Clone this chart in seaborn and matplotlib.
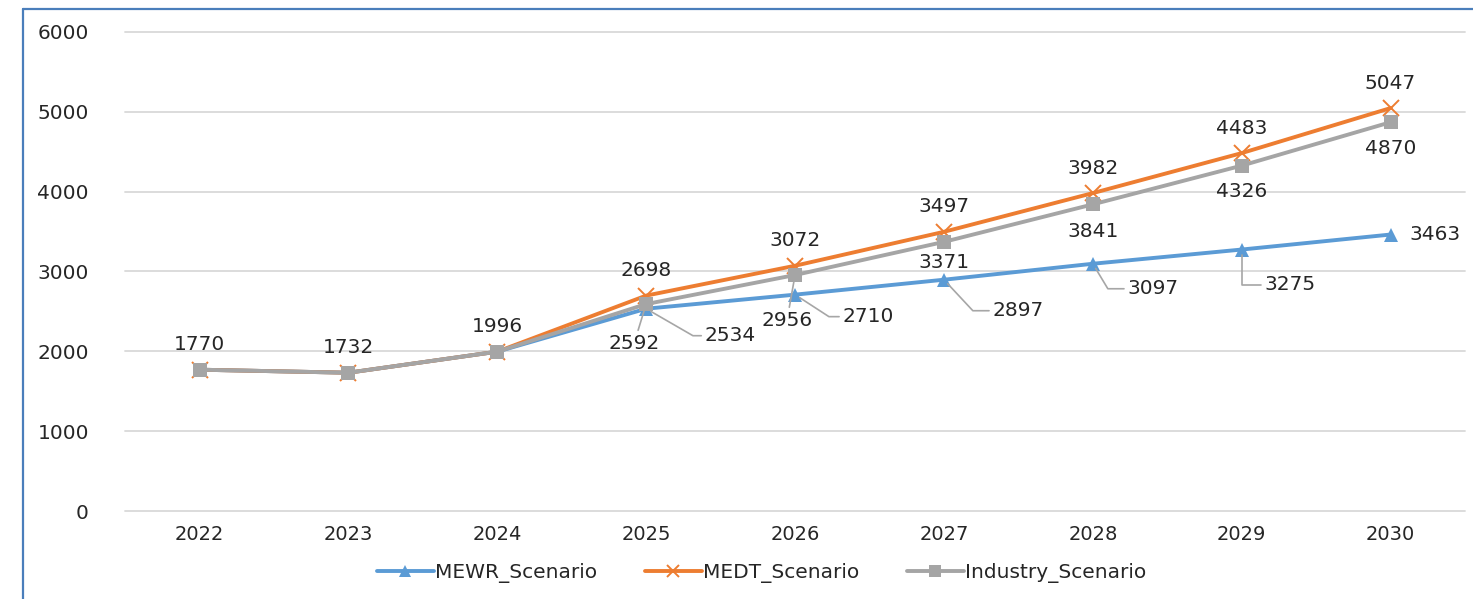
import numpy as np
import pandas as pd
import matplotlib
matplotlib.use("Agg")
import matplotlib.pyplot as plt
from matplotlib.lines import Line2D
import seaborn as sns

# ============================================================
# DATA
# ============================================================

years = [2022, 2023, 2024, 2025, 2026, 2027, 2028, 2029, 2030]

mewr = [1770, 1732, 1996, 2534, 2710, 2897, 3097, 3275, 3463]
medt = [1770, 1732, 1996, 2698, 3072, 3497, 3982, 4483, 5047]
industry = [1770, 1732, 1996, 2592, 2956, 3371, 3841, 4326, 4870]

y_ticks = [0, 1000, 2000, 3000, 4000, 5000, 6000]

series_names = ["MEWR_Scenario", "MEDT_Scenario", "Industry_Scenario"]

# ============================================================
# STYLE
# ============================================================

sns.set_style("white")
plt.rcParams["font.family"] = ["DejaVu Sans"]

TXT = "#262626"
GRID = "#d9d9d9"
LEADER = "#a6a6a6"
FS = 14.5

colors = {
    "MEWR_Scenario": "#5b9bd5",
    "MEDT_Scenario": "#ed7d31",
    "Industry_Scenario": "#a5a5a5",
}

markers = {
    "MEWR_Scenario": "^",
    "MEDT_Scenario": "x",
    "Industry_Scenario": "s",
}

fig = plt.figure(figsize=(14.73, 5.99), dpi=100)
ax = fig.add_axes([0.0849, 0.1469, 0.9097, 0.7997])

values = {
    "MEWR_Scenario": mewr,
    "MEDT_Scenario": medt,
    "Industry_Scenario": industry,
}

for name in series_names:

    df = pd.DataFrame({"year": years, "value": values[name]})

    sns.lineplot(
        data=df,
        x="year",
        y="value",
        ax=ax,
        color=colors[name],
        lw=2.8,
        marker=markers[name],
        markersize=10 if name != "MEDT_Scenario" else 11,
        markeredgewidth=1.4 if name == "MEDT_Scenario" else 0,
        markeredgecolor=colors[name],
        label=name,
        legend=False,
    )

ax.set_xlim(2021.5, 2030.5)
ax.set_ylim(0, 6000)
ax.set_yticks(y_ticks)
ax.set_xticks(years)
ax.set_xticklabels([str(y) for y in years])
ax.set_xlabel("")
ax.set_ylabel("")

ax.grid(axis="y", color=GRID, lw=1.3)
ax.grid(axis="x", visible=False)
ax.set_axisbelow(True)
for gl in ax.get_ygridlines():
    gl.set_clip_on(False)
for s in ax.spines.values():
    s.set_visible(False)

ax.tick_params(axis="y", length=0, pad=26, labelsize=FS, labelcolor=TXT)
ax.tick_params(axis="x", length=0, pad=10, labelsize=14, labelcolor=TXT)

# ============================================================
# DATA LABELS  (offsets in pixels, leader line spec)
# ============================================================

def label(x, y, dx, dy, conn=None, straight=False, ha="center"):

    kw = {}

    if conn is not None:
        kw["arrowprops"] = dict(
            arrowstyle="-",
            color=LEADER,
            lw=1.2,
            shrinkA=0,
            shrinkB=4,
            relpos=(0, 0.5),
            connectionstyle=conn,
        )
    elif straight:
        kw["arrowprops"] = dict(
            arrowstyle="-",
            color=LEADER,
            lw=1.2,
            shrinkA=0,
            shrinkB=5,
        )

    ax.annotate(
        f"{y}",
        xy=(x, y),
        xytext=(dx, dy),
        textcoords="offset pixels",
        ha=ha,
        va="center",
        fontsize=FS,
        color=TXT,
        **kw,
    )

# MEDT above every point
for yr, v in zip(years, medt):
    label(yr, v, 0, 25)

# Industry
ind_off = {2025: (-12, -39, True), 2026: (-8, -45, True),
           2027: (0, -21, False), 2028: (0, -27, False),
           2029: (0, -26, False), 2030: (0, -26, False)}
for yr, v in zip(years, industry):
    if yr in ind_off:
        dx, dy, st = ind_off[yr]
        label(yr, v, dx, dy, straight=st)

# MEWR
mewr_off = {
    2025: (84, -27, "angle,angleA=0,angleB=-30,rad=0"),
    2026: (73, -22, "angle,angleA=0,angleB=-33,rad=0"),
    2027: (74, -31, "angle,angleA=0,angleB=-47,rad=0"),
    2028: (60, -25, "angle,angleA=0,angleB=-59,rad=0"),
    2029: (48, -35, "angle,angleA=0,angleB=-90,rad=0"),
    2030: (44, 0, None),
}
for yr, v in zip(years, mewr):
    if yr in mewr_off:
        dx, dy, conn = mewr_off[yr]
        label(yr, v, dx, dy, conn=conn)

# ============================================================
# LEGEND
# ============================================================

handles = [
    Line2D([], [], color=colors[n], lw=2.8, marker=markers[n],
           markersize=9, markeredgewidth=1.4 if n == "MEDT_Scenario" else 0,
           markeredgecolor=colors[n])
    for n in series_names
]

fig.legend(
    handles,
    series_names,
    loc="center",
    bbox_to_anchor=(0.517, 0.0434),
    ncol=3,
    frameon=False,
    fontsize=FS,
    handlelength=2.8,
    handletextpad=0.05,
    columnspacing=2.4,
    labelcolor=TXT,
)

# chart border (left and top edges visible)
border = "#4a7ebb"
fig.add_artist(Line2D([23 / 1473, 23 / 1473], [0, 1 - 9 / 599],
                      transform=fig.transFigure, color=border, lw=1.6))
fig.add_artist(Line2D([23 / 1473, 1], [1 - 9 / 599, 1 - 9 / 599],
                      transform=fig.transFigure, color=border, lw=1.6))

fig.savefig("out.png", dpi=100)
